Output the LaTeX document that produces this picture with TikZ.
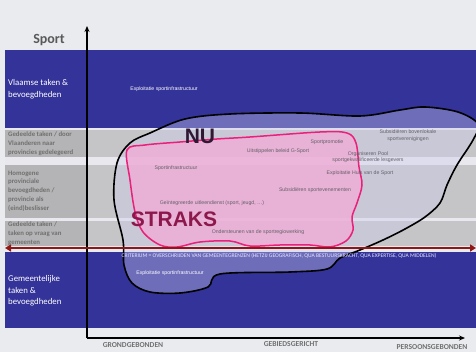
\documentclass[tikz,border=0pt]{standalone}
\usepackage{fontspec}
\setmainfont{Carlito}
\newfontfamily\arialfont{Liberation Sans}
\usetikzlibrary{arrows.meta}

\definecolor{paper}{RGB}{233,235,239}
\definecolor{bandblue}{RGB}{52,51,153}
\definecolor{bandgray}{RGB}{197,197,200}
\definecolor{colgray}{RGB}{180,180,182}
\definecolor{stripe}{RGB}{232,232,238}
\definecolor{nufill}{RGB}{205,205,240}
\definecolor{strakspink}{RGB}{234,32,122}
\definecolor{straksfill}{RGB}{240,172,214}
\definecolor{arrowred}{RGB}{145,22,22}
\definecolor{labelgray}{RGB}{112,112,112}
\definecolor{itemgray}{RGB}{100,96,104}

\tikzset{
  rowlabel/.style={anchor=west, align=left, inner sep=0pt, font=\bfseries\fontsize{6.8}{8.8}\selectfont, text=labelgray},
  bluelabel/.style={anchor=west, align=left, inner sep=0pt, font=\fontsize{8.8}{11.5}\selectfont, text=white},
  item/.style={inner sep=0pt, align=center, font=\arialfont\fontsize{5.2}{6.6}\selectfont, text=itemgray},
  bigword/.style={inner sep=0pt, font=\arialfont\bfseries\fontsize{21}{21}\selectfont},
  axislabel/.style={inner sep=0pt, font=\bfseries\fontsize{7.6}{8}\selectfont, text=labelgray},
  axis/.style={line width=1.4pt, -{Stealth[length=6pt,width=5pt]}}
}

\begin{document}
\begin{tikzpicture}[x=1pt, y=-1pt]
  \fill[paper] (0,0) rectangle (476,352);
  \useasboundingbox (0,0) rectangle (476,352);

  % bands
  \fill[bandblue] (5,50) rectangle (476,128);
  \fill[stripe] (5,128) rectangle (476,130);
  \fill[bandgray] (5,130) rectangle (476,157);
  \fill[stripe] (5,157) rectangle (476,165);
  \fill[bandgray] (5,165) rectangle (476,218);
  \fill[stripe] (5,218) rectangle (476,221);
  \fill[bandgray] (5,221) rectangle (476,246);
  \fill[bandblue] (5,252) rectangle (476,328);
  \fill[colgray] (5,130) rectangle (87,157);
  \fill[colgray] (5,165) rectangle (87,218);
  \fill[colgray] (5,221) rectangle (87,246);

  % NU
  \begin{scope}
    \clip (0,0) rectangle (476,352);
    \draw[line width=1.6pt, fill=nufill, fill opacity=0.38]
      plot[smooth cycle, tension=0.55] coordinates {(150,133) (185,119) (230,114) (300,113)
      (360,116) (400,110) (425,107) (458,112) (478,124) (473,140) (457,165) (447,185)
      (440,203) (425,217) (405,229) (383,240) (360,250) (340,258) (327,269) (290,272)
      (220,274) (208,287) (180,293) (150,292) (132,283) (124,265) (123,240) (114,200)
      (117,163) (130,143)};
  \end{scope}

  % STRAKS
  \draw[line width=1.5pt, draw=strakspink, fill=straksfill, fill opacity=0.8]
    plot[smooth cycle, tension=0.55] coordinates {(127,150) (145,145) (180,142) (217,139)
    (250,137) (320,132) (347,133) (356,143) (359,167) (362,185) (357,203) (352,217)
    (353,230) (346,241) (330,247) (310,245) (280,245) (250,246) (230,241) (200,242)
    (177,247) (160,245) (143,232) (135,212) (130,180)};

  % axes
  \coordinate (origin) at (87,338);
  \coordinate (ytop) at (87,26);
  \coordinate (xend) at (465,338);
  \draw[axis] (origin) -- (ytop);
  \draw[axis] (origin) -- (xend);

  % criterium arrow
  \coordinate (critL) at (5,248);
  \coordinate (critR) at (476,248);
  \draw[arrowred, line width=1.8pt, {Triangle[length=6pt,width=7pt]}-{Triangle[length=6pt,width=7pt]}] (critL) -- (critR);

  % row labels
  \node[inner sep=0pt, font=\bfseries\fontsize{14}{14}\selectfont, text=black!65] (sport) at (49,40) {Sport};
  \node[bluelabel] (vlaams) at (8,89) {Vlaamse taken \&\\bevoegdheden};
  \node[rowlabel] (gedeeld1) at (8,143.5) {Gedeelde taken / door\\Vlaanderen naar\\provincies gedelegeerd};
  \node[rowlabel] (homogeen) at (8,191) {Homogene\\provinciale\\bevoegdheden /\\provincie als\\(eind)beslisser};
  \node[rowlabel] (gedeeld2) at (8,233.5) {Gedeelde taken /\\taken op vraag van\\gemeenten};
  \node[bluelabel] (gemeente) at (8,291) {Gemeentelijke\\taken \&\\bevoegdheden};

  % big words
  \node[bigword, text={rgb,255:red,48;green,24;blue,52}] (nu) at (200,136) {NU};
  \node[bigword, text={rgb,255:red,140;green,24;blue,76}] (straks) at (174,219) {STRAKS};

  % items
  \node[item, text=white] (exploitA) at (164,89) {Exploitatie sportinfrastructuur};
  \node[item] (beleid) at (278,151) {Uitstippelen beleid G-Sport};
  \node[item] (promotie) at (327,142) {Sportpromotie};
  \node[item] (bovenlokaal) at (408,135.5) {Subsidiëren bovenlokale\\sportverenigingen};
  \node[item] (pool) at (368,157) {Organiseren Pool\\sportgekwalificeerde lesgevers};
  \node[item] (huis) at (360,173) {Exploitatie Huis van de Sport};
  \node[item] (infra) at (176,168) {Sportinfrastructuur};
  \node[item] (evenement) at (315,190) {Subsidiëren sportevenementen};
  \node[item] (uitleen) at (212,203) {Geïntegreerde uitleendienst (sport, jeugd, …)};
  \node[item] (regio) at (258,232) {Ondersteunen van de sportregiowerking};
  \node[inner sep=0pt, font=\fontsize{5.6}{6}\selectfont, text=white!90!blue] (criterium) at (279,255.5)
    {CRITERIUM = OVERSCHRIJDEN VAN GEMEENTEGRENZEN (HETZIJ GEOGRAFISCH, QUA BESTUURSKRACHT, QUA EXPERTISE, QUA MIDDELEN)};
  \node[item, text=white] (exploitB) at (170,273) {Exploitatie sportinfrastructuur};

  % axis labels
  \node[axislabel] (grond) at (133,345.5) {GRONDGEBONDEN};
  \node[axislabel] (gebied) at (291,344) {GEBIEDSGERICHT};
  \node[axislabel] (persoon) at (432,347) {PERSOONSGEBONDEN};
\end{tikzpicture}
\end{document}
